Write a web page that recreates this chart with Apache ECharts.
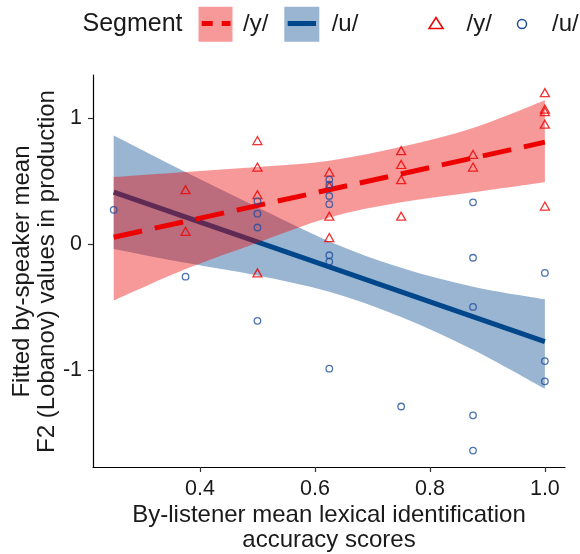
<!DOCTYPE html>
<html><head><meta charset="utf-8">
<script src="https://cdn.jsdelivr.net/npm/echarts@6/dist/echarts.min.js"></script>
<style>html,body{margin:0;padding:0;background:#fff}#c{width:580px;height:554px}</style>
</head><body><div id="c"></div>
<script>
// /y/ observations (triangles)
const yX = [0.375,0.375, 0.5,0.5,0.5,0.5, 0.625,0.625,0.625,0.625, 0.75,0.75,0.75,0.75, 0.875,0.875, 1.0,1.0,1.0,1.0,1.0];
const yY = [0.43,0.10, 0.82,0.61,0.39,-0.23, 0.57,0.46,0.22,0.05, 0.74,0.63,0.51,0.22, 0.71,0.61, 1.20,1.07,1.05,0.95,0.30];
// /u/ observations (circles)
const uX = [0.25, 0.375, 0.5,0.5,0.5,0.5, 0.625,0.625,0.625,0.625,0.625,0.625,0.625, 0.75, 0.875,0.875,0.875,0.875,0.875, 1.0,1.0,1.0];
const uY = [0.27, -0.26, 0.34,0.24,0.13,-0.61, 0.51,0.47,0.38,0.315,-0.09,-0.14,-0.99, -1.29, 0.33,-0.11,-0.50,-1.36,-1.64, -0.23,-0.93,-1.09];
// fitted lines
const fitX = [0.25, 1.0];
const yFit = [0.053, 0.807];
const uFit = [0.41, -0.775];
// confidence bands
const bandX  = [0.25, 0.375, 0.5, 0.625, 0.75, 0.875, 1.0];
const yUpper = [0.53, 0.57, 0.61, 0.66, 0.77, 0.92, 1.14];
const yLower = [-0.45, -0.20, 0.01, 0.21, 0.33, 0.41, 0.49];
const uUpper = [0.86, 0.57, 0.29, 0.02, -0.19, -0.34, -0.44];
const uLower = [-0.04, -0.15, -0.25, -0.38, -0.58, -0.84, -1.15];
// ticks
const xTicks = [0.4, 0.6, 0.8, 1.0];
const yTicks = [-1, 0, 1];

const RED = '#ED0000', BLUE = '#00468B';
const FONT = '"Liberation Sans", Arial, sans-serif';
const TXT = '#1a1a1a';

// smooth path through pixel points (Catmull-Rom -> cubic Bezier)
function smoothSeg(p) {
  let d = '';
  for (let i = 0; i < p.length - 1; i++) {
    const p0 = p[Math.max(i - 1, 0)], p1 = p[i], p2 = p[i + 1], p3 = p[Math.min(i + 2, p.length - 1)];
    const c1 = [p1[0] + (p2[0] - p0[0]) / 6, p1[1] + (p2[1] - p0[1]) / 6];
    const c2 = [p2[0] - (p3[0] - p1[0]) / 6, p2[1] - (p3[1] - p1[1]) / 6];
    d += ' C' + c1[0] + ' ' + c1[1] + ' ' + c2[0] + ' ' + c2[1] + ' ' + p2[0] + ' ' + p2[1];
  }
  return d;
}

function ribbon(upper, lower, fill, z) {
  return {
    type: 'custom', z: z, silent: true, clip: true,
    data: bandX.map((x, i) => [x, upper[i], lower[i]]),
    encode: { x: 0, y: [1, 2] },
    renderItem: function (params, api) {
      if (params.dataIndex !== 0) return null;
      const up = bandX.map((x, i) => api.coord([x, upper[i]]));
      const lo = bandX.map((x, i) => api.coord([x, lower[i]])).reverse();
      const d = 'M' + up[0][0] + ' ' + up[0][1] + smoothSeg(up) +
        ' L' + lo[0][0] + ' ' + lo[0][1] + smoothSeg(lo) + ' Z';
      return { type: 'path', shape: { pathData: d }, style: { fill: fill } };
    }
  };
}

const chart = echarts.init(document.getElementById('c'), null, { renderer: 'canvas' });
chart.setOption({
  animation: false,
  backgroundColor: '#fff',
  grid: { left: 93, right: 15, top: 75, bottom: 87 },
  xAxis: {
    type: 'value', min: 0.214, max: 1.035,
    axisLine: { show: true, onZero: false, lineStyle: { color: '#000', width: 1.2 } },
    axisTick: { show: true, length: 5, customValues: xTicks, lineStyle: { color: '#333', width: 1.2 } },
    axisLabel: { customValues: xTicks, margin: 11, fontSize: 21.5, color: TXT, fontFamily: FONT,
      formatter: v => Number(v).toFixed(1) },
    splitLine: { show: false }
  },
  yAxis: {
    type: 'value', min: -1.77, max: 1.34,
    axisLine: { show: true, onZero: false, lineStyle: { color: '#000', width: 1.2 } },
    axisTick: { show: true, length: 5, customValues: yTicks, lineStyle: { color: '#333', width: 1.2 } },
    axisLabel: { customValues: yTicks, margin: 11, fontSize: 21.5, color: TXT, fontFamily: FONT },
    splitLine: { show: false }
  },
  series: [
    ribbon(uUpper, uLower, 'rgba(0,70,139,0.4)', 1),
    { type: 'line', z: 2, silent: true, symbol: 'none', data: fitX.map((x, i) => [x, uFit[i]]),
      lineStyle: { color: BLUE, width: 5, cap: 'butt' } },
    ribbon(yUpper, yLower, 'rgba(237,0,0,0.4)', 3),
    { type: 'line', z: 4, silent: true, symbol: 'none', data: fitX.map((x, i) => [x, yFit[i]]),
      lineStyle: { color: RED, width: 5, type: [29, 13], cap: 'butt' } },
    { type: 'scatter', z: 5, silent: true, symbol: 'triangle', symbolSize: [9, 8],
      data: yX.map((x, i) => [x, yY[i]]),
      itemStyle: { color: 'rgba(0,0,0,0)', borderColor: RED, borderWidth: 1.3 } },
    { type: 'scatter', z: 5, silent: true, symbol: 'circle', symbolSize: 6.5,
      data: uX.map((x, i) => [x, uY[i]]),
      itemStyle: { color: 'rgba(0,0,0,0)', borderColor: '#1F4F9F', borderWidth: 1.3 } }
  ],
  graphic: [
    // legend
    { type: 'text', x: 82.5, y: 24, style: { text: 'Segment', font: '25px ' + FONT, fill: TXT, align: 'left', verticalAlign: 'middle' } },
    { type: 'rect', shape: { x: 198.5, y: 6.7, width: 34, height: 35 }, style: { fill: 'rgba(237,0,0,0.4)' } },
    { type: 'line', shape: { x1: 201.7, y1: 23.5, x2: 230.5, y2: 23.5 }, style: { stroke: RED, lineWidth: 5, lineDash: [11, 9] } },
    { type: 'text', x: 243, y: 24, style: { text: '/y/', font: '24px ' + FONT, fill: TXT, align: 'left', verticalAlign: 'middle' } },
    { type: 'rect', shape: { x: 284.3, y: 6.7, width: 35, height: 35 }, style: { fill: 'rgba(0,70,139,0.4)' } },
    { type: 'line', shape: { x1: 287.7, y1: 23.5, x2: 316, y2: 23.5 }, style: { stroke: BLUE, lineWidth: 5 } },
    { type: 'text', x: 331.7, y: 24, style: { text: '/u/', font: '24px ' + FONT, fill: TXT, align: 'left', verticalAlign: 'middle' } },
    { type: 'polygon', shape: { points: [[436, 17.5], [443, 28.5], [429, 28.5]] }, style: { fill: 'none', stroke: RED, lineWidth: 1.5 } },
    { type: 'text', x: 466.5, y: 24, style: { text: '/y/', font: '24px ' + FONT, fill: TXT, align: 'left', verticalAlign: 'middle' } },
    { type: 'circle', shape: { cx: 522, cy: 24, r: 4.5 }, style: { fill: 'none', stroke: '#1F4F9F', lineWidth: 1.5 } },
    { type: 'text', x: 552, y: 24, style: { text: '/u/', font: '24px ' + FONT, fill: TXT, align: 'left', verticalAlign: 'middle' } },
    // axis titles
    { type: 'text', x: 329, y: 515, style: { text: 'By-listener mean lexical identification', font: '24px ' + FONT, fill: TXT, align: 'center', verticalAlign: 'middle' } },
    { type: 'text', x: 329, y: 540.5, style: { text: 'accuracy scores', font: '24px ' + FONT, fill: TXT, align: 'center', verticalAlign: 'middle' } },
    { type: 'text', x: 22, y: 271.5, rotation: Math.PI / 2, style: { text: 'Fitted by-speaker mean', font: '24px ' + FONT, fill: TXT, align: 'center', verticalAlign: 'middle' } },
    { type: 'text', x: 47, y: 271.5, rotation: Math.PI / 2, style: { text: 'F2 (Lobanov) values in production', font: '24px ' + FONT, fill: TXT, align: 'center', verticalAlign: 'middle' } }
  ]
});
</script></body></html>
